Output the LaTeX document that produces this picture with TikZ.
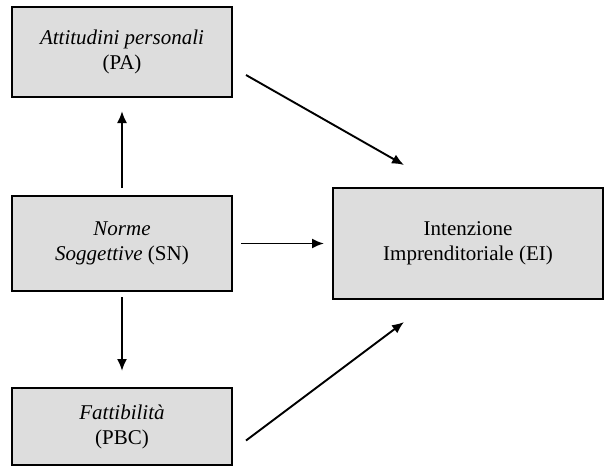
\documentclass[tikz,border=0pt]{standalone}
\usepackage{fontspec}
\setmainfont{Liberation Serif}
\usetikzlibrary{arrows.meta,positioning}

\definecolor{boxgray}{RGB}{221,221,221}
\tikzset{
  box/.style={draw=black, line width=2pt, fill=boxgray, align=center,
              inner sep=0pt, font=\fontsize{21}{25}\selectfont},
  arr/.style={line width=1.9pt, -{Latex[length=12pt,width=10pt]}}
}

\begin{document}
\begin{tikzpicture}[x=1pt,y=1pt]
    \useasboundingbox (0,0) rectangle (609,467);
    \node[box, minimum width=220pt, minimum height=90pt] (pa) at (122,415) {\textit{Attitudini personali}\\(PA)};
    \node[box, minimum width=220pt, minimum height=95pt] (sn) at (122,223.5) {\textit{Norme}\\\textit{Soggettive} (SN)};
    \node[box, minimum width=220pt, minimum height=77pt] (pbc) at (122,40.5) {\textit{Fattibilità}\\(PBC)};
    \node[box, minimum width=270pt, minimum height=111pt] (ei) at (468,223.5) {Intenzione\\Imprenditoriale (EI)};
    % free ends of the diagonal arrows
    \coordinate (paout) at ([xshift=13pt,yshift=-23pt]pa.east);
    \coordinate (pbcout) at ([xshift=13pt,yshift=-14pt]pbc.east);
    \coordinate (eitop) at ([xshift=72pt,yshift=22pt]ei.north west);
    \coordinate (eibot) at ([xshift=72pt,yshift=-22pt]ei.south west);
    \draw[arr] (paout) -- (eitop);
    \draw[arr] (pbcout) -- (eibot);
    \draw[arr, shorten <=8pt, shorten >=8pt] (sn.east) -- (ei.west);
    \draw[arr, shorten <=7pt, shorten >=13pt] (sn.north) -- (pa.south);
    \draw[arr, shorten <=5pt, shorten >=16pt] (sn.south) -- (pbc.north);
\end{tikzpicture}
\end{document}
